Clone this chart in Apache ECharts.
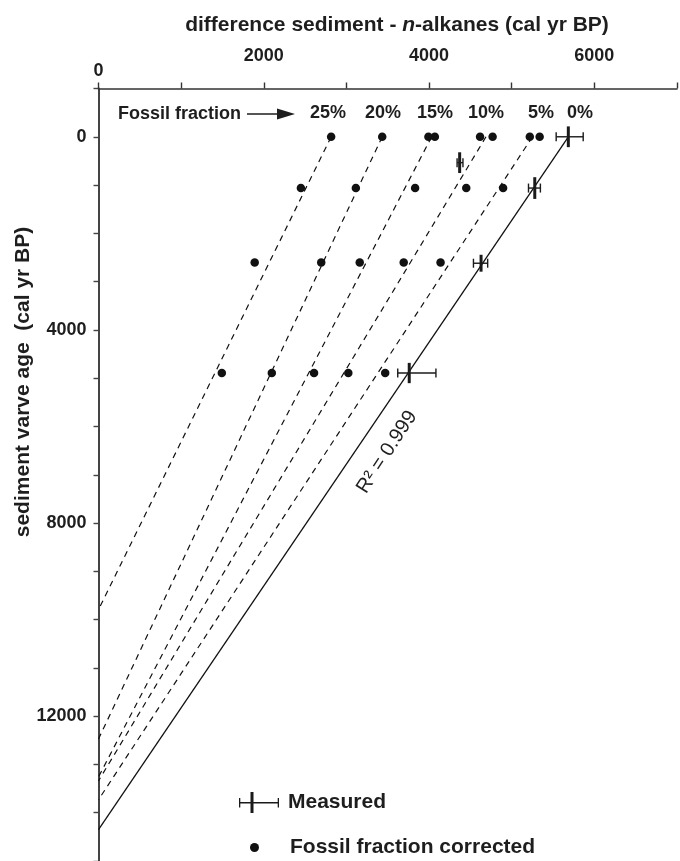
<!DOCTYPE html>
<html>
<head>
<meta charset="utf-8">
<style>
  html, body { margin: 0; padding: 0; background: #fff; }
  #chart { width: 680px; height: 861px; }
</style>
<script src="https://cdn.jsdelivr.net/npm/echarts@6/dist/echarts.min.js"></script>
</head>
<body>
<div id="chart"></div>
<script>
// Fossil-fraction scenarios and their regression lines
const fractions = ['25%', '20%', '15%', '10%', '5%', '0%'];
const fitTopOffset = [2815, 3433, 4031, 4689, 5251, 5685];   // offset at varve age 0
const fitAxisAge = [9794, 12474, 13260, 13340, 13732, 14351]; // varve age where offset reaches 0

// Measured offsets (sediment minus n-alkanes) with uncertainties
const measuredAge = [0, 536, 1062, 2619, 4893];
const measuredOffset = [5685, 4370, 5279, 4629, 3760];
const measuredOffsetLow = [5538, 4339, 5203, 4537, 3621];
const measuredOffsetHigh = [5865, 4410, 5347, 4709, 4083];
const measuredAgeErr = [215, 215, 225, 175, 210];

// Fossil-fraction corrected offsets, grouped by sample age
const correctedAges = [0, 1062, 2604, 4893];
const correctedOffsets = [
  [2815, 3433, 3992, 4070, 4617, 4769, 5219, 5338],
  [2449, 3114, 3831, 4450, 4896],
  [1890, 2695, 3161, 3693, 4139],
  [1492, 2097, 2608, 3023, 3469]
];

// Axis tick labels
const xTickLabels = [2000, 4000, 6000];
const yTickLabels = [0, 4000, 8000, 12000];

const FONT = '"Liberation Sans", Arial, sans-serif';
const INK = '#1e1e1e';

const measuredData = measuredAge.map((a, i) => [
  measuredOffset[i], a, measuredOffsetLow[i], measuredOffsetHigh[i],
  a - measuredAgeErr[i], a + measuredAgeErr[i]
]);

const correctedData = [];
correctedAges.forEach((a, r) => {
  correctedOffsets[r].forEach(v => correctedData.push([v, a]));
});

const lineSeries = fractions.map((f, i) => ({
  name: 'fit ' + f,
  type: 'line',
  xAxisIndex: 0,
  yAxisIndex: 0,
  data: [[fitTopOffset[i], 0], [0, fitAxisAge[i]]],
  showSymbol: false,
  symbol: 'none',
  silent: true,
  z: 2,
  lineStyle: {
    color: '#111',
    width: f === '0%' ? 1.3 : 1.2,
    type: f === '0%' ? 'solid' : [6, 5]
  }
}));

// Positions of the fraction captions above the first row
const fractionLabelX = [328, 383, 435, 486, 541, 580];

const chart = echarts.init(document.getElementById('chart'));

chart.setOption({
  backgroundColor: '#ffffff',
  animation: false,
  textStyle: { fontFamily: FONT },
  title: {
    text: '{a|difference sediment - }{b|n}{a|-alkanes (cal yr BP)}',
    left: 392,
    top: 10,
    textAlign: 'center',
    textStyle: {
      rich: {
        a: { fontFamily: FONT, fontSize: 21, fontWeight: 'bold', color: INK },
        b: { fontFamily: FONT, fontSize: 21, fontWeight: 'bold', fontStyle: 'italic', color: INK }
      }
    }
  },
  grid: { left: 98.5, top: 88.5, width: 585.2, height: 776 },
  xAxis: [
    {
      type: 'value', position: 'top', min: 0, max: 7000, interval: 1000,
      axisLine: { show: true, onZero: false, lineStyle: { color: '#333', width: 1.6 } },
      axisTick: { show: true, inside: false, length: 6, lineStyle: { color: '#333', width: 1.4 } },
      axisLabel: {
        margin: 23,
        fontFamily: FONT, fontSize: 18, fontWeight: 'bold', color: INK,
        formatter: v => (xTickLabels.indexOf(v) >= 0 ? String(v) : '')
      },
      splitLine: { show: false }
    },
    {
      type: 'value', position: 'top', min: 0, max: 7000, interval: 1000,
      axisLine: { show: false, onZero: false }, axisTick: { show: false },
      axisLabel: {
        margin: 8,
        fontFamily: FONT, fontSize: 18, fontWeight: 'bold', color: INK,
        formatter: v => (v === 0 ? '0' : '')
      },
      splitLine: { show: false }
    }
  ],
  yAxis: {
    type: 'value', inverse: true, min: -1000, max: 15000, interval: 1000,
    axisLine: { show: true, onZero: false, lineStyle: { color: '#444', width: 2 } },
    axisTick: { show: true, inside: false, length: 5, lineStyle: { color: '#444', width: 1.4 } },
    axisLabel: {
      margin: 12,
      fontFamily: FONT, fontSize: 18, fontWeight: 'bold', color: INK,
      formatter: v => (yTickLabels.indexOf(v) >= 0 ? String(v) : '')
    },
    splitLine: { show: false }
  },
  legend: [
    {
      data: [{
        name: 'Measured',
        icon: 'path://M0,10L40,10L40,11.5L0,11.5Z M0,6L1.3,6L1.3,15.5L0,15.5Z M38.7,6L40,6L40,15.5L38.7,15.5Z M11.5,0L14.5,0L14.5,21L11.5,21Z'
      }],
      left: 234, top: 787, itemWidth: 40, itemHeight: 21,
      selectedMode: false,
      textStyle: { fontFamily: FONT, fontSize: 21, fontWeight: 'bold', color: INK, padding: [0, 0, 0, 4] }
    },
    {
      data: [{ name: 'Fossil fraction corrected', icon: 'circle' }],
      left: 245, top: 832, itemWidth: 9, itemHeight: 9,
      selectedMode: false,
      textStyle: { fontFamily: FONT, fontSize: 21, fontWeight: 'bold', color: INK, padding: [5, 0, 0, 26] }
    }
  ],
  graphic: [
    {
      type: 'text', x: 23, y: 382, rotation: Math.PI / 2,
      style: {
        text: 'sediment varve age  (cal yr BP)',
        font: 'bold 21px ' + FONT, fill: INK,
        textAlign: 'center', textVerticalAlign: 'middle'
      }
    },
    {
      type: 'text', x: 118, y: 114,
      style: {
        text: 'Fossil fraction', font: 'bold 18px ' + FONT, fill: INK,
        textAlign: 'left', textVerticalAlign: 'middle'
      }
    },
    {
      type: 'line', shape: { x1: 247, y1: 114, x2: 280, y2: 114 },
      style: { stroke: INK, lineWidth: 1.3 }
    },
    {
      type: 'polygon', shape: { points: [[277, 108.5], [295, 114], [277, 119.5]] },
      style: { fill: INK }
    },
    ...fractions.map((f, i) => ({
      type: 'text', x: fractionLabelX[i], y: 113.5,
      style: {
        text: f, font: 'bold 18px ' + FONT, fill: INK,
        textAlign: 'center', textVerticalAlign: 'middle'
      }
    })),
    {
      type: 'text', x: 387, y: 452, rotation: 57 * Math.PI / 180,
      style: {
        text: 'R² = 0.999', font: '20px ' + FONT, fill: INK,
        textAlign: 'center', textVerticalAlign: 'middle'
      }
    }
  ],
  series: [
    ...lineSeries,
    {
      name: 'Fossil fraction corrected',
      type: 'scatter',
      xAxisIndex: 0, yAxisIndex: 0,
      data: correctedData,
      symbol: 'circle',
      symbolSize: 8.5,
      itemStyle: { color: '#111', opacity: 1 },
      z: 4
    },
    {
      name: 'Measured',
      type: 'custom',
      xAxisIndex: 0, yAxisIndex: 0,
      data: measuredData,
      itemStyle: { color: '#1a1a1a' },
      z: 5,
      renderItem: function (params, api) {
        const c = api.coord([api.value(0), api.value(1)]);
        const lo = api.coord([api.value(2), api.value(1)]);
        const hi = api.coord([api.value(3), api.value(1)]);
        const top = api.coord([api.value(0), api.value(4)]);
        const bot = api.coord([api.value(0), api.value(5)]);
        const cap = 4.5;
        const thin = { stroke: '#1a1a1a', lineWidth: 1.4 };
        return {
          type: 'group',
          children: [
            { type: 'line', shape: { x1: lo[0], y1: c[1], x2: hi[0], y2: c[1] }, style: thin },
            { type: 'line', shape: { x1: lo[0], y1: c[1] - cap, x2: lo[0], y2: c[1] + cap }, style: thin },
            { type: 'line', shape: { x1: hi[0], y1: c[1] - cap, x2: hi[0], y2: c[1] + cap }, style: thin },
            { type: 'line', shape: { x1: c[0], y1: top[1], x2: c[0], y2: bot[1] }, style: { stroke: '#1a1a1a', lineWidth: 3 } }
          ]
        };
      }
    }
  ]
});
</script>
</body>
</html>
